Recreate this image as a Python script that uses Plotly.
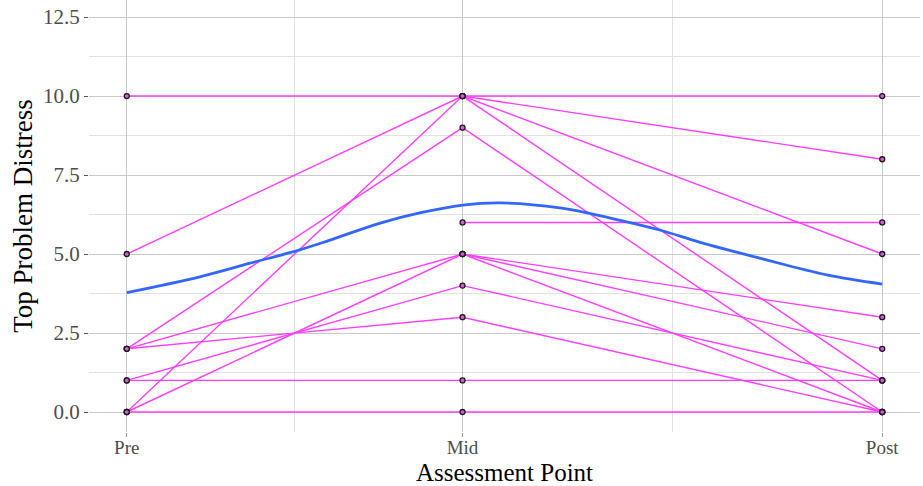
import plotly.graph_objects as go

# Assessment points (numeric positions in weeks) and labels
tick_pos = [0, 4, 9]
tick_labels = ["Pre", "Mid", "Post"]

# Per-participant scores at Pre, Mid, Post (None = missing)
pre_scores  = [10, 5, 0, 2, 2, 0, 2, 1, 1, 0, None, None, None]
mid_scores  = [10, 10, 10, 9, 5, 5, 3, 4, 1, 0, 6, 10, 5]
post_scores = [10, 8, 5, 0, 3, 2, 0, 1, 1, 0, 6, 1, 0]

# Smoothed trend
smooth_x = [0, 0.87, 1.47, 2.06, 2.42, 3.02, 3.49, 4.0, 4.45, 5.16, 5.76, 6.35, 6.83, 7.54, 8.34, 9.0]
smooth_y = [3.78, 4.28, 4.71, 5.13, 5.44, 5.98, 6.30, 6.55, 6.62, 6.46, 6.14, 5.76, 5.37, 4.87, 4.34, 4.05]

fig = go.Figure()

pts_x, pts_y = [], []
for a, b, c in zip(pre_scores, mid_scores, post_scores):
    xs, ys = [], []
    for xv, yv in zip(tick_pos, [a, b, c]):
        if yv is not None:
            xs.append(xv)
            ys.append(yv)
    pts_x += xs
    pts_y += ys
    fig.add_trace(go.Scatter(x=xs, y=ys, mode="lines",
                             line=dict(color="#ff3dff", width=1.4),
                             hoverinfo="skip", showlegend=False))

fig.add_trace(go.Scatter(x=pts_x, y=pts_y, mode="markers",
                         marker=dict(size=5, color="#d060d0",
                                     line=dict(color="#1a1a1a", width=1.3)),
                         showlegend=False))

fig.add_trace(go.Scatter(x=smooth_x, y=smooth_y, mode="lines",
                         line=dict(color="#3366ff", width=2.8, shape="spline"),
                         showlegend=False))

font_family = "Liberation Serif, Times New Roman, serif"

fig.update_layout(
    width=923, height=486,
    margin=dict(l=89, r=3, t=0, b=54),
    plot_bgcolor="white", paper_bgcolor="white",
    font=dict(family=font_family),
    showlegend=False,
    xaxis=dict(
        range=[-0.45, 9.45],
        tickmode="array", tickvals=tick_pos, ticktext=tick_labels,
        showgrid=True, gridcolor="#c9c9c9", gridwidth=1.3,
        minor=dict(tickmode="array", tickvals=[2, 6.5], showgrid=True,
                   gridcolor="#e2e2e2", gridwidth=1),
        zeroline=False, showline=False,
        ticks="outside", ticklen=4, tickcolor="#9a9a9a", tickwidth=1,
        ticklabelstandoff=-6,
        tickfont=dict(size=19, color="#4d4d4d", family=font_family),
        title=dict(text="Assessment Point", standoff=10,
                   font=dict(size=25, color="black", family=font_family)),
    ),
    yaxis=dict(
        range=[-0.633, 13.04],
        tickmode="array", tickvals=[0, 2.5, 5, 7.5, 10, 12.5],
        ticktext=["0.0", "2.5", "5.0", "7.5", "10.0", "12.5"],
        showgrid=True, gridcolor="#c9c9c9", gridwidth=1.3,
        minor=dict(tickmode="array", tickvals=[1.25, 3.75, 6.25, 8.75, 11.25],
                   showgrid=True, gridcolor="#e2e2e2", gridwidth=1),
        zeroline=False, showline=False,
        ticks="outside", ticklen=4, tickcolor="#555555", tickwidth=1,
        tickfont=dict(size=21, color="#4d4d4d", family=font_family),
        title=dict(text="Top Problem Distress", standoff=2,
                   font=dict(size=27, color="black", family=font_family)),
    ),
)

fig.write_html("out.html")
